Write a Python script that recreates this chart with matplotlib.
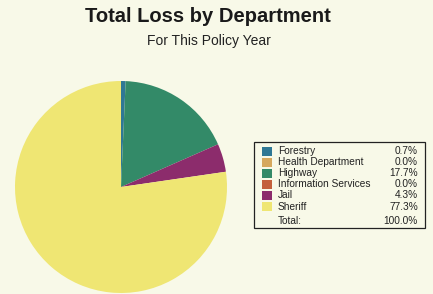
import matplotlib
matplotlib.use("Agg")
import matplotlib.pyplot as plt
from matplotlib.patches import Rectangle

departments = ["Forestry", "Health Department", "Highway", "Information Services", "Jail", "Sheriff"]
percents = [0.7, 0.0, 17.7, 0.0, 4.3, 77.3]
colors = ["#2f7895", "#d6a85e", "#338a68", "#c4603c", "#8c2c6c", "#efe673"]
total_label = "Total:"
total_value = 100.0

W, H = 433, 294
bg = "#f8f9e8"
fig = plt.figure(figsize=(W / 100, H / 100), dpi=100, facecolor=bg)

def fx(px):
    return px / W

def fy(py):
    return 1 - py / H

fig.text(fx(208), fy(16), "Total Loss by Department", ha="center", va="center",
         fontsize=14.5, fontweight="bold", color="#1a1a1a", family="Liberation Sans")
fig.text(fx(209), fy(41), "For This Policy Year", ha="center", va="center",
         fontsize=10, color="#222222", family="Liberation Sans")

# pie
cx, cy, r = 121, 187, 106
ax = fig.add_axes([fx(cx - r), fy(cy + r), 2 * r / W, 2 * r / H])
ax.set_facecolor(bg)
ax.pie(percents, colors=colors, startangle=90, counterclock=False,
       wedgeprops=dict(linewidth=0), radius=1.0)
ax.set_xlim(-1, 1)
ax.set_ylim(-1, 1)
ax.set_aspect("equal")
ax.axis("off")

# legend box
x0, x1, y0, y1 = 254, 425, 142, 228
fig.patches.append(Rectangle((fx(x0), fy(y1)), (x1 - x0) / W, (y1 - y0) / H,
                             transform=fig.transFigure, facecolor=bg,
                             edgecolor="#222222", linewidth=0.9))
fs = 7.3
row_y0, step = 151, 11.1
for i, (name, pct, col) in enumerate(zip(departments, percents, colors)):
    y = row_y0 + i * step
    fig.patches.append(Rectangle((fx(262), fy(y + 4.5)), 10 / W, 9 / H,
                                 transform=fig.transFigure, facecolor=col,
                                 edgecolor="none"))
    fig.text(fx(278), fy(y), name, ha="left", va="center", fontsize=fs,
             color="#222222", family="Liberation Sans")
    fig.text(fx(418), fy(y), f"{pct:.1f}%", ha="right", va="center", fontsize=fs,
             color="#222222", family="Liberation Sans")
ty = 221
fig.text(fx(278), fy(ty), total_label, ha="left", va="center", fontsize=fs,
         color="#222222", family="Liberation Sans")
fig.text(fx(418), fy(ty), f"{total_value:.1f}%", ha="right", va="center", fontsize=fs,
         color="#222222", family="Liberation Sans")

fig.savefig("out.png", dpi=100, facecolor=bg)
